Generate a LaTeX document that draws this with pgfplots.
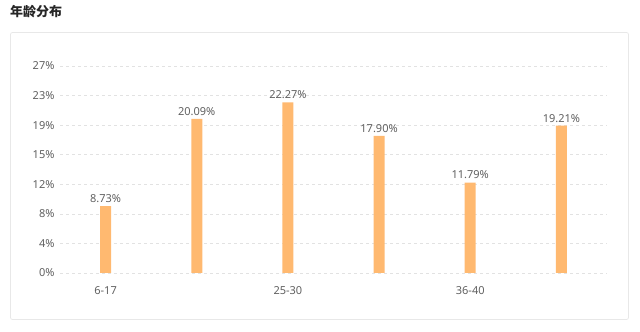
\documentclass[border=0pt]{standalone}
\usepackage{pgfplots}
\pgfplotsset{compat=1.18}
\usepackage{fontspec}
\setmainfont{Noto Sans}
\newfontfamily\cjk{Noto Sans CJK SC}
\definecolor{barc}{RGB}{255,185,112}
\definecolor{txt}{RGB}{96,96,96}
\definecolor{gridc}{RGB}{226,226,226}
\definecolor{panel}{RGB}{232,232,232}
\begin{document}
\begin{tikzpicture}[x=1pt,y=1pt]
\path[use as bounding box] (0,0) rectangle (640,332);
\draw[panel, line width=0.8pt, rounded corners=2pt] (10.5,12.5) rectangle (628.5,299.5);
\node[anchor=west, inner sep=0pt, text=black!85] at (10,320) {\cjk\bfseries\fontsize{13}{15}\selectfont 年龄分布};
\begin{axis}[
  at={(60pt,59pt)}, anchor=south west,
  width=547pt, height=207pt, scale only axis,
  xmin=-0.5, xmax=5.5, ymin=0, ymax=27,
  axis line style={draw=none},
  tick style={draw=none},
  ymajorgrids, major grid style={gridc, dash pattern=on 3pt off 3pt, line width=0.6pt},
  ytick={0,3.857142857,7.714285714,11.57142857,15.42857143,19.28571429,23.14285714,27},
  yticklabels={0\%,4\%,8\%,12\%,15\%,19\%,23\%,27\%},
  xtick={0,2,4},
  xticklabels={6-17,25-30,36-40},
  ticklabel style={font=\fontsize{11}{13}\selectfont, text=txt},
  yticklabel style={xshift=-2pt},
  xticklabel style={yshift=-6pt},
  /pgf/number format/assume math mode=true,
  ybar, bar width=11pt,
  nodes near coords={\pgfmathprintnumber[fixed,precision=2,fixed zerofill]{\pgfplotspointmeta}\%},
  nodes near coords style={font=\fontsize{11}{13}\selectfont, text=txt, yshift=0pt},
]
\addplot[fill=barc, draw=none] coordinates {(0,8.73) (1,20.09) (2,22.27) (3,17.90) (4,11.79) (5,19.21)};
\end{axis}
\end{tikzpicture}
\end{document}
